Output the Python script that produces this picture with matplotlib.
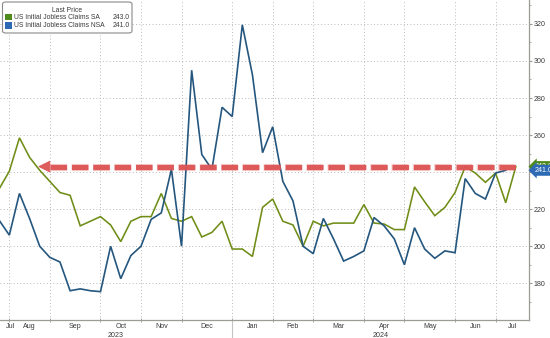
import numpy as np
import pandas as pd
import matplotlib
matplotlib.use("Agg")
import matplotlib.pyplot as plt
from matplotlib.patches import Polygon, Rectangle, FancyBboxPatch
from matplotlib.transforms import blended_transform_factory
from matplotlib.ticker import FixedLocator, MultipleLocator

plt.rcParams["font.family"] = ["Liberation Sans", "DejaVu Sans"]

# Weekly US initial jobless claims (thousands), weeks ending on Fridays
week_end = pd.date_range("2023-07-21", "2024-07-12", freq="W-FRI")

claims_sa = [231, 240.5, 258.5, 248, 241, 235, 229, 227.5, 211, 213.5, 216,
             211.5, 202.5, 213.5, 216, 216, 228.5, 215, 213.5, 216,
             205, 207.5, 213.5, 198.5, 198.5, 194.5, 221, 225.5, 213.5, 211.5,
             200, 213.5, 211, 212.5, 212.5, 212.5, 222.5, 212.5, 212, 209,
             209, 232, 224, 216.5, 221, 229, 243, 239.5, 234.5, 239.5, 223.5, 243]
claims_nsa = [214, 206, 228.5, 215, 200, 194, 191.5, 176, 177, 176, 175.5,
              200, 182.5, 195, 200, 214.5, 218, 241.5, 200, 295,
              249.5, 241.5, 275, 270, 319.5, 292.5, 250.5, 264.5, 235, 224.5,
              200, 196, 215, 204, 192, 194.5, 197.5, 215.5, 211, 204,
              190, 210, 198.5, 193.5, 197.5, 196.5, 236.5, 228.5, 225.5, 239.5, 241]

series_names = ["US Initial Jobless Claims SA", "US Initial Jobless Claims NSA"]
y_ticks = [180, 200, 220, 240, 260, 280, 300, 320]

GREEN = "#6f8d17"
BLUE = "#24567e"
GREEN_TAG = "#4f8a1c"
BLUE_TAG = "#2d6ab3"
RED = "#dd5454"
GRID = "#b9b9b9"
AXIS = "#9c9c94"
TXT = "#3a3a3a"

W, H = 550, 338
fig = plt.figure(figsize=(W / 100, H / 100), dpi=100)
fig.patch.set_facecolor("white")
ax = fig.add_axes([0, 18 / H, 528.7 / W, 320 / H])

pos = np.arange(len(week_end))
x_left, x_right = 0.08, 52.27
ax.set_xlim(x_left, x_right)
ax.set_ylim(160.2, 332.9)

# month boundaries sit on the last week of each month
months = week_end.to_period("M")
bounds = [i for i in range(len(pos) - 1) if months[i] != months[i + 1]]

# grid
for b in bounds:
    ax.axvline(b, color=GRID, lw=0.7, ls=(0, (1, 2.4)), zorder=0.5)
for v in y_ticks:
    ax.axhline(v, color=GRID, lw=0.7, ls=(0, (1, 2.4)), zorder=0.5)

# series
ax.plot(pos[:len(claims_sa)], claims_sa, color=GREEN, lw=1.15, zorder=3,
        solid_joinstyle="miter")
ax.plot(pos[:len(claims_nsa)], claims_nsa, color=BLUE, lw=1.2, zorder=3,
        solid_joinstyle="miter")

# dashed arrow back to the latest seasonally adjusted level
level = claims_sa[-1]
tip_i, base_i = 4, 5
ax.plot([base_i, pos[len(claims_sa) - 1]], [level, level], color=RED, lw=5.2,
        alpha=0.25, ls=(0, (2.3, 0.65)), dash_capstyle="butt", zorder=4)
ax.plot([base_i, pos[len(claims_sa) - 1]], [level, level], color=RED, lw=3.8,
        ls=(0, (3.15, 0.9)), dash_capstyle="butt", zorder=4.1, alpha=0.95)
half_h = 2.9
ax.add_patch(Polygon([[tip_i - 0.08, level], [base_i, level + half_h],
                      [base_i, level - half_h]], closed=True, fc=RED, ec=RED,
                     lw=0.6, alpha=0.95, zorder=4.2))

# axes styling
for s in ["left", "top"]:
    ax.spines[s].set_visible(False)
for s in ["right", "bottom"]:
    ax.spines[s].set_color(AXIS)
    ax.spines[s].set_linewidth(0.9)
ax.yaxis.tick_right()
ax.yaxis.set_major_locator(FixedLocator(y_ticks))
ax.yaxis.set_minor_locator(MultipleLocator(10))
ax.tick_params(axis="y", which="major", length=2.0, width=0.8, color=AXIS,
               pad=1.3, labelsize=5.1, labelcolor=TXT)
ax.tick_params(axis="y", which="minor", length=1.3, width=0.6, color=AXIS)
ax.set_xticks(bounds)
ax.set_xticklabels([])
ax.tick_params(axis="x", which="major", length=2.5, width=0.6, color=AXIS,
               direction="inout")

# month and year labels under the axis
bx = blended_transform_factory(ax.transData, ax.transAxes)
edges = [x_left] + bounds + [x_right]
month_starts = [0] + [b + 1 for b in bounds]
for j, start in enumerate(month_starts):
    lo, hi = edges[j], edges[j + 1]
    c = 0.5 * (lo + hi)
    if j == 0:
        c = max(c, x_left + 1.0)
    ax.text(c, -0.021, week_end[start].strftime("%b"), transform=bx,
            ha="center", va="center", fontsize=5.1, color=TXT, clip_on=False)

years = week_end.year
year_bounds = [i for i in range(len(pos) - 1) if years[i] != years[i + 1]]
yedges = [x_left] + year_bounds + [x_right]
ystarts = [0] + [b + 1 for b in year_bounds]
for j, start in enumerate(ystarts):
    c = 0.5 * (yedges[j] + yedges[j + 1])
    ax.text(c, -0.047, str(years[start]), transform=bx, ha="center",
            va="center", fontsize=5.1, color=TXT, clip_on=False)
for b in year_bounds:
    ax.plot([b, b], [0, -0.06], transform=bx, color="#c4c4c4", lw=0.8,
            clip_on=False)

# last-value tags on the right axis
by = blended_transform_factory(ax.transAxes, ax.transData)
for val, col, z in [(claims_sa[-1], GREEN_TAG, 10), (claims_nsa[-1], BLUE_TAG, 11)]:
    ax.annotate(f"{val:.1f}", xy=(1.0, val), xycoords=by, xytext=(4.2, 0),
                textcoords="offset points", ha="left", va="center",
                fontsize=5.1, color="white", zorder=z, annotation_clip=False,
                bbox=dict(boxstyle="larrow,pad=0.28", fc=col, ec="none"))

# legend box
def fx(px):
    return px / W

def fy(py):
    return 1 - py / H

fig.patches.append(FancyBboxPatch((fx(2.5), fy(33)), fx(129.5), 31 / H,
                                  boxstyle="round,pad=0,rounding_size=0.006",
                                  transform=fig.transFigure, fc="white",
                                  ec="#8a8a8a", lw=0.8, zorder=20))
fig.text(fx(67), fy(10.2), "Last Price", ha="center", va="center",
         fontsize=4.9, color=TXT, zorder=21)
rows = [(series_names[0], claims_sa[-1], GREEN_TAG, 17.2),
        (series_names[1], claims_nsa[-1], BLUE_TAG, 25.4)]
for name, val, col, yy in rows:
    fig.patches.append(Rectangle((fx(5), fy(yy + 3.2)), fx(6.5), 6.4 / H,
                                 transform=fig.transFigure, fc=col, ec="none",
                                 zorder=21))
    fig.text(fx(14.5), fy(yy), name, ha="left", va="center", fontsize=4.9,
             color=TXT, zorder=21)
    fig.text(fx(129.5), fy(yy), f"{val:.1f}", ha="right", va="center",
             fontsize=4.9, color=TXT, zorder=21)

fig.savefig("out.png", dpi=100, facecolor="white")
